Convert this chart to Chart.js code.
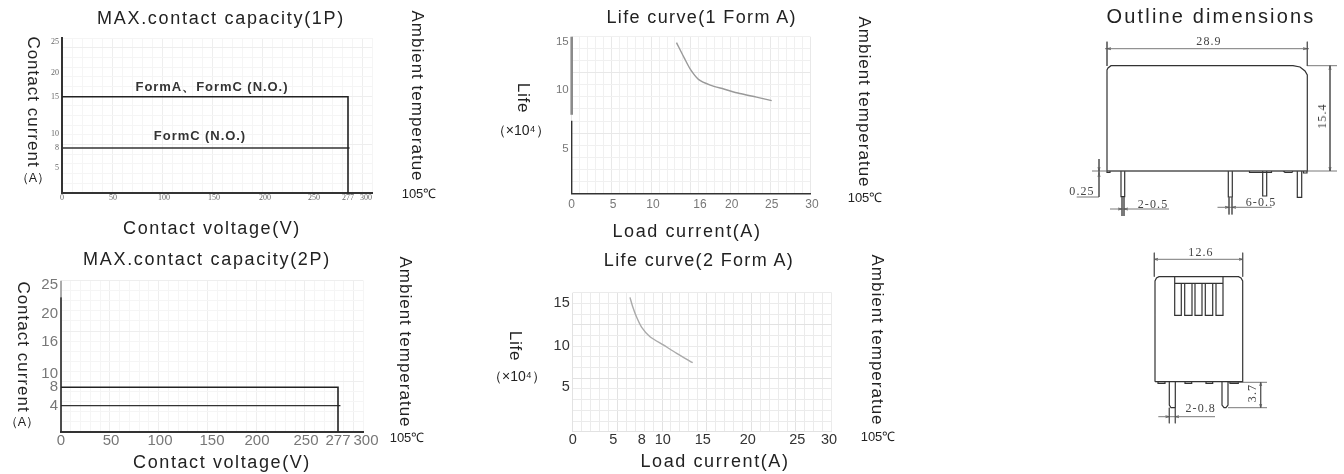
<!DOCTYPE html>
<html>
<head>
<meta charset="utf-8">
<title>Relay characteristic curves</title>
<script src="https://cdn.jsdelivr.net/npm/chart.js@4/dist/chart.umd.min.js"></script>
<style>
  html, body { margin: 0; background: #fff; }
  #page { position: relative; width: 1344px; height: 474px; overflow: hidden; }
  canvas { position: absolute; left: 0; top: 0; }
  .t { position: absolute; white-space: nowrap; color: #222; font-family: "Liberation Sans", sans-serif; line-height: 1; }
  .dim { font-family: "Liberation Serif", serif; color: #444; font-size: 12px; letter-spacing: 1.1px; }
  .form { font-weight: bold; font-size: 13px; letter-spacing: 0.95px; color: #333; }
</style>
</head>
<body>
<div id="page"></div>
<script>
// 1P contact capacity
const cap1Volts = [0, 277, 277];
const cap1Upper = [15, 15, 0];
const cap1LowerVolts = [0, 279];
const cap1Lower = [8, 8];
const cap1XTicks = [0, 50, 100, 150, 200, 250, 277, 300];
const cap1YTicks = [5, 8, 10, 15, 20, 25];

// 2P contact capacity
const cap2Volts = [0, 277, 277];
const cap2Upper = [8, 8, 0];
const cap2LowerVolts = [0, 279];
const cap2Lower = [4, 4];
const cap2XTicks = [0, 50, 100, 150, 200, 250, 277, 300];
const cap2YTicks = [4, 8, 10, 16, 20, 25];

// life curves
const life1Load = [13, 14, 14.8, 15.8, 17.3, 19, 21, 23.1, 25];
const life1Cycles = [14.9, 13.3, 12.1, 11.1, 10.5, 10.1, 9.7, 9.4, 9.1];
const life1XTicks = [0, 5, 10, 16, 20, 25, 30];
const life1YTicks = [5, 10, 15];

const life2Load = [6.76, 7.05, 7.47, 8, 8.79, 10.08, 11.75, 13.75];
const life2Cycles = [15.66, 14.57, 13.34, 12.17, 11.08, 10.12, 9.11, 7.96];
const life2XTicks = [0, 5, 8, 10, 15, 20, 25, 30];
const life2YTicks = [5, 10, 15];

// outline drawing strokes, in page pixels
const outlineBody = [
  [[1107,171],[1107,70],[1108,68],[1111,65.7],[1293,65.7],[1300,67],[1305,71],[1307.3,75],[1307.3,171],[1107,171]],
  [[1107,171],[1107,172.5],[1110,172.5],[1110,171]],
  [[1249.5,171],[1249.5,172.5],[1271.5,172.5],[1271.5,171]],
  [[1283,171],[1285,172.5],[1292,172.5],[1293,171]],
  [[1303.5,171],[1303.5,173],[1307,173],[1307,171]],
  [[1121,171],[1121,196.7],[1124.7,196.7],[1124.7,171]],
  [[1228.3,171],[1228.3,197],[1232.3,197],[1232.3,171]],
  [[1262.7,171],[1262.7,196],[1266.7,196],[1266.7,171]],
  [[1297.3,171],[1297.3,197.3],[1301.7,197.3],[1301.7,171]],
  [[1155,381.7],[1155,281],[1156.5,278],[1159,276.7],[1238.5,276.7],[1241,278],[1242.7,281],[1242.7,381.7],[1155,381.7]],
  [[1174.7,276.7],[1174.7,283.3],[1223,283.3],[1223,276.7]],
  [[1174.7,283.3],[1174.7,315.3],[1181.3,315.3],[1181.3,283.3]],
  [[1184.7,283.3],[1184.7,315.3],[1192,315.3],[1192,283.3]],
  [[1195,283.3],[1195,315.3],[1202,315.3],[1202,283.3]],
  [[1205.3,283.3],[1205.3,315.3],[1212.7,315.3],[1212.7,283.3]],
  [[1216,283.3],[1216,315.3],[1223,315.3],[1223,283.3]],
  [[1169.3,381.7],[1169.3,405],[1171,407.7],[1175.3,407.7],[1175.3,381.7]],
  [[1222,381.7],[1222,405],[1224,407.7],[1226,407.7],[1228,405],[1228,381.7]],
  [[1158,381.7],[1158,383.3],[1165,383.3],[1165,381.7]],
  [[1185,381.7],[1185,383.3],[1191.7,383.3],[1191.7,381.7]],
  [[1206,381.7],[1206,383.3],[1212.7,383.3],[1212.7,381.7]],
  [[1230,381.7],[1230,383.3],[1238.3,383.3],[1238.3,381.7]]
];
const outlineDims = [
  [[1107,41.7],[1107,66]], [[1307.3,41.7],[1307.3,66]], [[1105,48.7],[1309,48.7]],
  [[1307,65.7],[1337,65.7]], [[1092,171],[1337,171]], [[1330,65.7],[1330,171]],
  [[1099,159],[1099,197]], [[1076.7,197],[1099,197]],
  [[1122,197],[1122,216]], [[1124,197],[1124,216]], [[1110,209],[1169,209]],
  [[1229,197],[1229,214.5]], [[1232,197],[1232,214.5]], [[1217.5,207.3],[1271.7,207.3]],
  [[1154.3,259.3],[1243,259.3]], [[1154.3,252.7],[1154.3,276.7]], [[1242.7,252.7],[1242.7,276.7]],
  [[1228,382.3],[1267,382.3]], [[1228,407.7],[1267,407.7]], [[1260.7,382.3],[1260.7,407.7]],
  [[1158.3,416.7],[1215,416.7]], [[1169.3,407.7],[1169.3,423.3]], [[1175.3,407.7],[1175.3,423.3]],
  // arrow heads
  [[1111,47.7],[1107,48.7],[1111,49.7]], [[1303,47.7],[1307.3,48.7],[1303,49.7]],
  [[1329,70],[1330,65.7],[1331,70]], [[1329,167],[1330,171],[1331,167]],
  [[1098,167],[1099,171],[1100,167]], [[1098,177],[1099,172.5],[1100,177]],
  [[1118,208],[1122,209],[1118,210]], [[1128,208],[1124,209],[1128,210]],
  [[1225,206.3],[1229,207.3],[1225,208.3]], [[1236,206.3],[1232,207.3],[1236,208.3]],
  [[1158,258.3],[1154.3,259.3],[1158,260.3]], [[1239,258.3],[1242.7,259.3],[1239,260.3]],
  [[1259.7,386],[1260.7,382.3],[1261.7,386]], [[1259.7,404],[1260.7,407.7],[1261.7,404]],
  [[1165.5,415.7],[1169.3,416.7],[1165.5,417.7]], [[1179,415.7],[1175.3,416.7],[1179,417.7]]
];

// text placed by its centre on the page
const pageTexts = [
  { s: "MAX.contact capacity(1P)", x: 221, y: 17.5, size: 18, ls: 1.7 },
  { s: "Contact voltage(V)", x: 212, y: 228, size: 18, ls: 1.6 },
  { s: "Contact current", x: 33, y: 102, size: 17, ls: 1.0, rot: 90 },
  { s: "（A）", x: 33, y: 178, size: 12.5 },
  { s: "Ambient temperatue", x: 417, y: 96, size: 17, ls: 1.0, rot: 90 },
  { s: "105℃", x: 419, y: 193, size: 13 },
  { s: "FormA、FormC (N.O.)", x: 212, y: 86, cls: "form" },
  { s: "FormC (N.O.)", x: 200, y: 135, cls: "form" },

  { s: "MAX.contact capacity(2P)", x: 207, y: 259, size: 18, ls: 1.7 },
  { s: "Contact voltage(V)", x: 222, y: 462, size: 18, ls: 1.6 },
  { s: "Contact current", x: 23, y: 347, size: 17, ls: 1.0, rot: 90 },
  { s: "（A）", x: 22, y: 421.7, size: 12.5 },
  { s: "Ambient temperatue", x: 405, y: 342, size: 17, ls: 1.0, rot: 90 },
  { s: "105℃", x: 407, y: 437, size: 13 },

  { s: "Life curve(1 Form A)", x: 701.7, y: 17.3, size: 18, ls: 1.37 },
  { s: "Load current(A)", x: 687, y: 230.7, size: 18, ls: 1.6 },
  { s: "Life", x: 522.7, y: 98, size: 17, ls: 0.8, rot: 90 },
  { s: "（×10⁴）", x: 520.7, y: 130, size: 14 },
  { s: "Ambient temperatue", x: 864, y: 102, size: 17, ls: 1.0, rot: 90 },
  { s: "105℃", x: 865, y: 196.7, size: 13 },

  { s: "Life curve(2 Form A)", x: 699, y: 260, size: 18, ls: 1.37 },
  { s: "Load current(A)", x: 715, y: 460.7, size: 18, ls: 1.6 },
  { s: "Life", x: 515, y: 345.7, size: 17, ls: 0.8, rot: 90 },
  { s: "（×10⁴）", x: 517, y: 375.7, size: 14 },
  { s: "Ambient temperatue", x: 876.7, y: 340, size: 17, ls: 1.0, rot: 90 },
  { s: "105℃", x: 878, y: 436, size: 13 },

  { s: "Outline dimensions", x: 1211, y: 16, size: 20, ls: 2.15 },
  { s: "28.9", x: 1209, y: 40.7, cls: "dim" },
  { s: "15.4", x: 1322, y: 115.7, cls: "dim", rot: -90 },
  { s: "0.25", x: 1082, y: 191, cls: "dim" },
  { s: "2-0.5", x: 1153, y: 204, cls: "dim" },
  { s: "6-0.5", x: 1261, y: 201.7, cls: "dim" },
  { s: "12.6", x: 1201, y: 251.7, cls: "dim" },
  { s: "3.7", x: 1251.7, y: 393, cls: "dim", rot: -90 },
  { s: "2-0.8", x: 1200.7, y: 408, cls: "dim" }
];

const pageW = 1344, pageH = 474;
// room kept for tick labels outside the plot box
const tickRoomX = 22, tickRoomY = 44;
const page = document.getElementById("page");

// the printed axes are not evenly spaced, so ticks are pinned to where they sit
class StopScale extends Chart.LinearScale {
  getPixelForValue(v) {
    const stops = this.options.stops;
    let i = 0;
    while (i < stops.length - 2 && v > stops[i + 1][0]) i++;
    const a = stops[i], b = stops[i + 1];
    return a[1] + (v - a[0]) / (b[0] - a[0]) * (b[1] - a[1]);
  }
}
StopScale.id = "stops";
StopScale.defaults = Chart.LinearScale.defaults;
Chart.register(StopScale);

// axis drawn in pieces where the printed one changes tone
const axisPieces = {
  id: "axisPieces",
  afterDatasetsDraw(chart, args, opts) {
    if (!opts.pieces) return;
    const ctx = chart.ctx, y = chart.scales.y, x = chart.scales.x.getPixelForValue(0);
    ctx.save();
    opts.pieces.forEach(p => {
      ctx.beginPath();
      ctx.strokeStyle = p.color;
      ctx.lineWidth = p.width;
      ctx.moveTo(x, y.getPixelForValue(p.from));
      ctx.lineTo(x, y.getPixelForValue(p.to));
      ctx.stroke();
    });
    ctx.restore();
  }
};

function zip(xs, ys) { return xs.map((x, i) => ({ x: x, y: ys[i] })); }

function tickScale(o) {
  return {
    type: "stops",
    min: o.min, max: o.max, stops: o.stops,
    afterBuildTicks: s => { s.ticks = o.ticks.map(v => ({ value: v })); },
    afterFit: s => { if (s.isHorizontal()) s.height = tickRoomX; else s.width = tickRoomY; },
    grid: { display: false, drawTicks: false },
    border: { display: !!o.border, color: o.border, width: o.borderWidth },
    ticks: {
      autoSkip: false, maxRotation: 0, padding: o.padding, color: o.color,
      font: { family: o.family || "Liberation Sans", size: o.size },
      callback: v => String(v)
    }
  };
}

function gridScale(axis, cells, col, strong) {
  return {
    type: "linear", axis: axis, position: axis === "x" ? "bottom" : "left",
    min: 0, max: cells,
    afterBuildTicks: s => { s.ticks = Array.from({ length: cells + 1 }, (_, i) => ({ value: i })); },
    afterFit: s => { if (s.isHorizontal()) s.height = 0; else s.width = 0; },
    ticks: { display: false },
    border: { display: false },
    grid: { drawTicks: false, lineWidth: 1, color: c => (c.index % 5 === 0 ? strong : col) }
  };
}

function addCanvas() {
  const c = document.createElement("canvas");
  c.width = pageW; c.height = pageH;
  page.appendChild(c);
  return c;
}

function panel(o) {
  new Chart(addCanvas(), {
    type: "scatter",
    data: { datasets: o.lines.map(l => ({
      data: l.data, showLine: true, pointRadius: 0, borderColor: l.color,
      borderWidth: l.width, tension: l.tension || 0, clip: false, xAxisID: "x", yAxisID: "y"
    })) },
    options: {
      responsive: false, animation: false, events: [],
      layout: { padding: {
        left: o.box[0] - tickRoomY, right: pageW - o.box[1],
        top: o.box[2], bottom: pageH - o.box[3] - tickRoomX
      } },
      plugins: { legend: { display: false }, tooltip: { enabled: false }, axisPieces: { pieces: o.pieces } },
      scales: { gx: o.gx, gy: o.gy, x: o.x, y: o.y }
    },
    plugins: [axisPieces]
  });
}

panel({
  box: [62, 372, 38, 193],
  lines: [
    { data: zip(cap1Volts, cap1Upper), color: "#222", width: 1.6 },
    { data: zip(cap1LowerVolts, cap1Lower), color: "#333", width: 1.5 }
  ],
  gx: gridScale("x", 31, "#f5f5f5", "#eeeeee"),
  gy: gridScale("y", 16, "#f5f5f5", "#eeeeee"),
  x: tickScale({ min: 0, max: 300, ticks: cap1XTicks, border: "#333", borderWidth: 2, padding: 0, size: 8, color: "#666", family: "Liberation Serif",
    stops: [[0, 62], [50, 113], [100, 164], [150, 214], [200, 265], [250, 314], [277, 348], [300, 366]] }),
  y: tickScale({ min: 0, max: 25.6, ticks: cap1YTicks, border: "#333", borderWidth: 2, padding: 3, size: 8, color: "#666", family: "Liberation Serif",
    stops: [[0, 193], [5, 168], [8, 148], [10, 134], [15, 96.7], [20, 72.7], [25, 41.6], [25.6, 38]] })
});

panel({
  box: [61, 363.3, 280.7, 431.7],
  lines: [
    { data: zip(cap2Volts, cap2Upper), color: "#222", width: 1.6 },
    { data: zip(cap2LowerVolts, cap2Lower), color: "#333", width: 1.2 }
  ],
  gx: gridScale("x", 31, "#f5f5f5", "#eeeeee"),
  gy: gridScale("y", 15, "#f5f5f5", "#eeeeee"),
  x: tickScale({ min: 0, max: 300, ticks: cap2XTicks, border: "#333", borderWidth: 2, padding: 0, size: 15, color: "#777",
    stops: [[0, 61], [50, 111], [100, 160], [150, 212], [200, 257], [250, 306], [277, 338], [300, 366]] }),
  y: tickScale({ min: 0, max: 25.6, ticks: cap2YTicks, padding: 3, size: 15, color: "#777",
    stops: [[0, 431.7], [4, 405.7], [8, 387.3], [10, 374], [16, 341.7], [20, 314], [25, 285], [25.6, 280.7]] }),
  pieces: [
    { from: 25.6, to: 22.9, color: "#999", width: 1.6 },
    { from: 22.9, to: 0, color: "#222", width: 1.6 }
  ]
});

panel({
  box: [571.7, 810, 36.7, 193.3],
  lines: [{ data: zip(life1Load, life1Cycles), color: "#999", width: 1.4, tension: 0.25 }],
  gx: gridScale("x", 30, "#f0f0f0", "#e8e8e8"),
  gy: gridScale("y", 13, "#f0f0f0", "#e8e8e8"),
  x: tickScale({ min: 0, max: 30, ticks: life1XTicks, border: "#333", borderWidth: 1.5, padding: 4, size: 12, color: "#777",
    stops: [[0, 571.7], [5, 613], [10, 653], [16, 700], [20, 731.7], [25, 771.7], [30, 812]] }),
  y: tickScale({ min: 0, max: 15.5, ticks: life1YTicks, padding: 3, size: 11.5, color: "#777",
    stops: [[0, 193.3], [5, 149], [10, 90], [15, 41.7], [15.5, 36.7]] }),
  pieces: [
    { from: 15.5, to: 7.9, color: "#8a8a8a", width: 2.6 },
    { from: 7.4, to: 0, color: "#333", width: 1.4 }
  ]
});

panel({
  box: [572.7, 831.7, 292.7, 431.7],
  lines: [{ data: zip(life2Load, life2Cycles), color: "#aaa", width: 1.4, tension: 0.25 }],
  gx: gridScale("x", 29, "#ebebeb", "#e2e2e2"),
  gy: gridScale("y", 13, "#ebebeb", "#e2e2e2"),
  x: tickScale({ min: 0, max: 30, ticks: life2XTicks, padding: 0, size: 14.5, color: "#333",
    stops: [[0, 572.7], [5, 613.3], [8, 641.7], [10, 662.7], [15, 702.7], [20, 747.7], [25, 797.3], [30, 829]] }),
  y: tickScale({ min: 0, max: 16.2, ticks: life2YTicks, padding: 3, size: 14.5, color: "#333",
    stops: [[0, 431.7], [5, 387], [10, 346], [15, 303], [16.2, 292.7]] })
});

// outline drawings on a chart whose scales are the page itself
function strokes(list) {
  const pts = [];
  list.forEach(line => {
    line.forEach(p => pts.push({ x: p[0], y: p[1] }));
    pts.push({ x: NaN, y: NaN });
  });
  return pts;
}

new Chart(addCanvas(), {
  type: "scatter",
  data: { datasets: [
    { data: strokes(outlineDims), showLine: true, pointRadius: 0, borderColor: "#555", borderWidth: 0.8, spanGaps: false },
    { data: strokes(outlineBody), showLine: true, pointRadius: 0, borderColor: "#333", borderWidth: 1.2, spanGaps: false }
  ] },
  options: {
    responsive: false, animation: false, events: [],
    layout: { padding: 0 },
    plugins: { legend: { display: false }, tooltip: { enabled: false } },
    scales: {
      x: { display: false, min: 0, max: pageW },
      y: { display: false, min: 0, max: pageH, reverse: true }
    }
  }
});

pageTexts.forEach(t => {
  const d = document.createElement("div");
  d.className = "t" + (t.cls ? " " + t.cls : "");
  d.textContent = t.s;
  d.style.left = t.x + "px";
  d.style.top = t.y + "px";
  if (t.size) d.style.fontSize = t.size + "px";
  if (t.ls) d.style.letterSpacing = t.ls + "px";
  d.style.transform = "translate(-50%,-50%)" + (t.rot ? " rotate(" + t.rot + "deg)" : "");
  page.appendChild(d);
});
</script>
</body>
</html>
